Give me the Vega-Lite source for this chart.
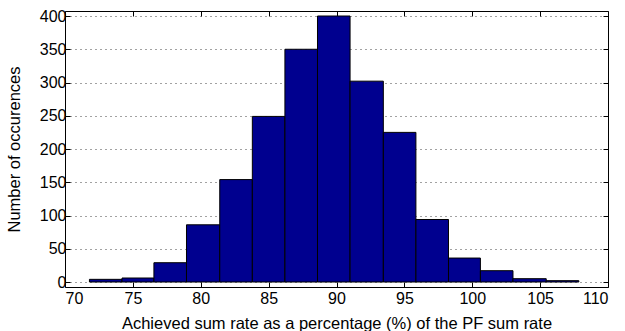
{
  "$schema": "https://vega.github.io/schema/vega-lite/v6.json",
  "autosize": {"type": "none"},
  "padding": {"left": 65, "top": 11, "right": 17, "bottom": 44},
  "width": 543,
  "height": 276,
  "config": {
    "view": {"stroke": "black", "strokeWidth": 1},
    "font": "Liberation Sans",
    "axis": {
      "labelFont": "Liberation Sans",
      "titleFont": "Liberation Sans",
      "labelFontSize": 16,
      "titleFontSize": 16.5,
      "titleFontWeight": "normal",
      "labelColor": "black",
      "titleColor": "black",
      "domain": false,
      "tickColor": "black",
      "tickSize": -5
    }
  },
  "data": {
    "values": [
      {"start": 71.8, "end": 74.2, "count": 4},
      {"start": 74.2, "end": 76.55, "count": 6},
      {"start": 76.55, "end": 78.95, "count": 29},
      {"start": 78.95, "end": 81.4, "count": 86},
      {"start": 81.4, "end": 83.8, "count": 154},
      {"start": 83.8, "end": 86.2, "count": 249},
      {"start": 86.2, "end": 88.6, "count": 350},
      {"start": 88.6, "end": 91.0, "count": 400},
      {"start": 91.0, "end": 93.45, "count": 302},
      {"start": 93.45, "end": 95.85, "count": 225},
      {"start": 95.85, "end": 98.25, "count": 94},
      {"start": 98.25, "end": 100.6, "count": 36},
      {"start": 100.6, "end": 103.0, "count": 17},
      {"start": 103.0, "end": 105.45, "count": 5},
      {"start": 105.45, "end": 107.85, "count": 2}
    ]
  },
  "layer": [
    {
      "mark": {"type": "bar", "fill": "#00008F", "stroke": "black", "strokeWidth": 1},
      "encoding": {
        "x": {
          "field": "start", "type": "quantitative",
          "scale": {"domain": [70, 110], "nice": false, "zero": false},
          "axis": {"orient": "bottom", "values": [70,75,80,85,90,95,100,105,110], "grid": false, "labelPadding": 8, "title": "Achieved sum rate as a percentage (%) of the PF sum rate", "titlePadding": 9}
        },
        "x2": {"field": "end"},
        "y": {
          "field": "count", "type": "quantitative",
          "scale": {"domain": [0, 400], "nice": false},
          "axis": {"orient": "left", "values": [0,50,100,150,200,250,300,350,400], "grid": true, "gridDash": [1, 4], "gridColor": "#444444", "gridWidth": 1, "labelPadding": 4, "title": "Number of occurences", "titlePadding": 17}
        },
        "y2": {"datum": 0}
      }
    },
    {
      "mark": {"type": "bar", "opacity": 0},
      "encoding": {
        "x": {
          "field": "start", "type": "quantitative",
          "scale": {"domain": [70, 110], "nice": false, "zero": false},
          "axis": {"orient": "top", "values": [70,75,80,85,90,95,100,105,110], "labels": false, "grid": false, "title": null}
        },
        "x2": {"field": "end"},
        "y": {
          "field": "count", "type": "quantitative",
          "scale": {"domain": [0, 400], "nice": false},
          "axis": {"orient": "right", "values": [0,50,100,150,200,250,300,350,400], "labels": false, "grid": false, "title": null}
        }
      }
    }
  ],
  "resolve": {"axis": {"x": "independent", "y": "independent"}}
}
